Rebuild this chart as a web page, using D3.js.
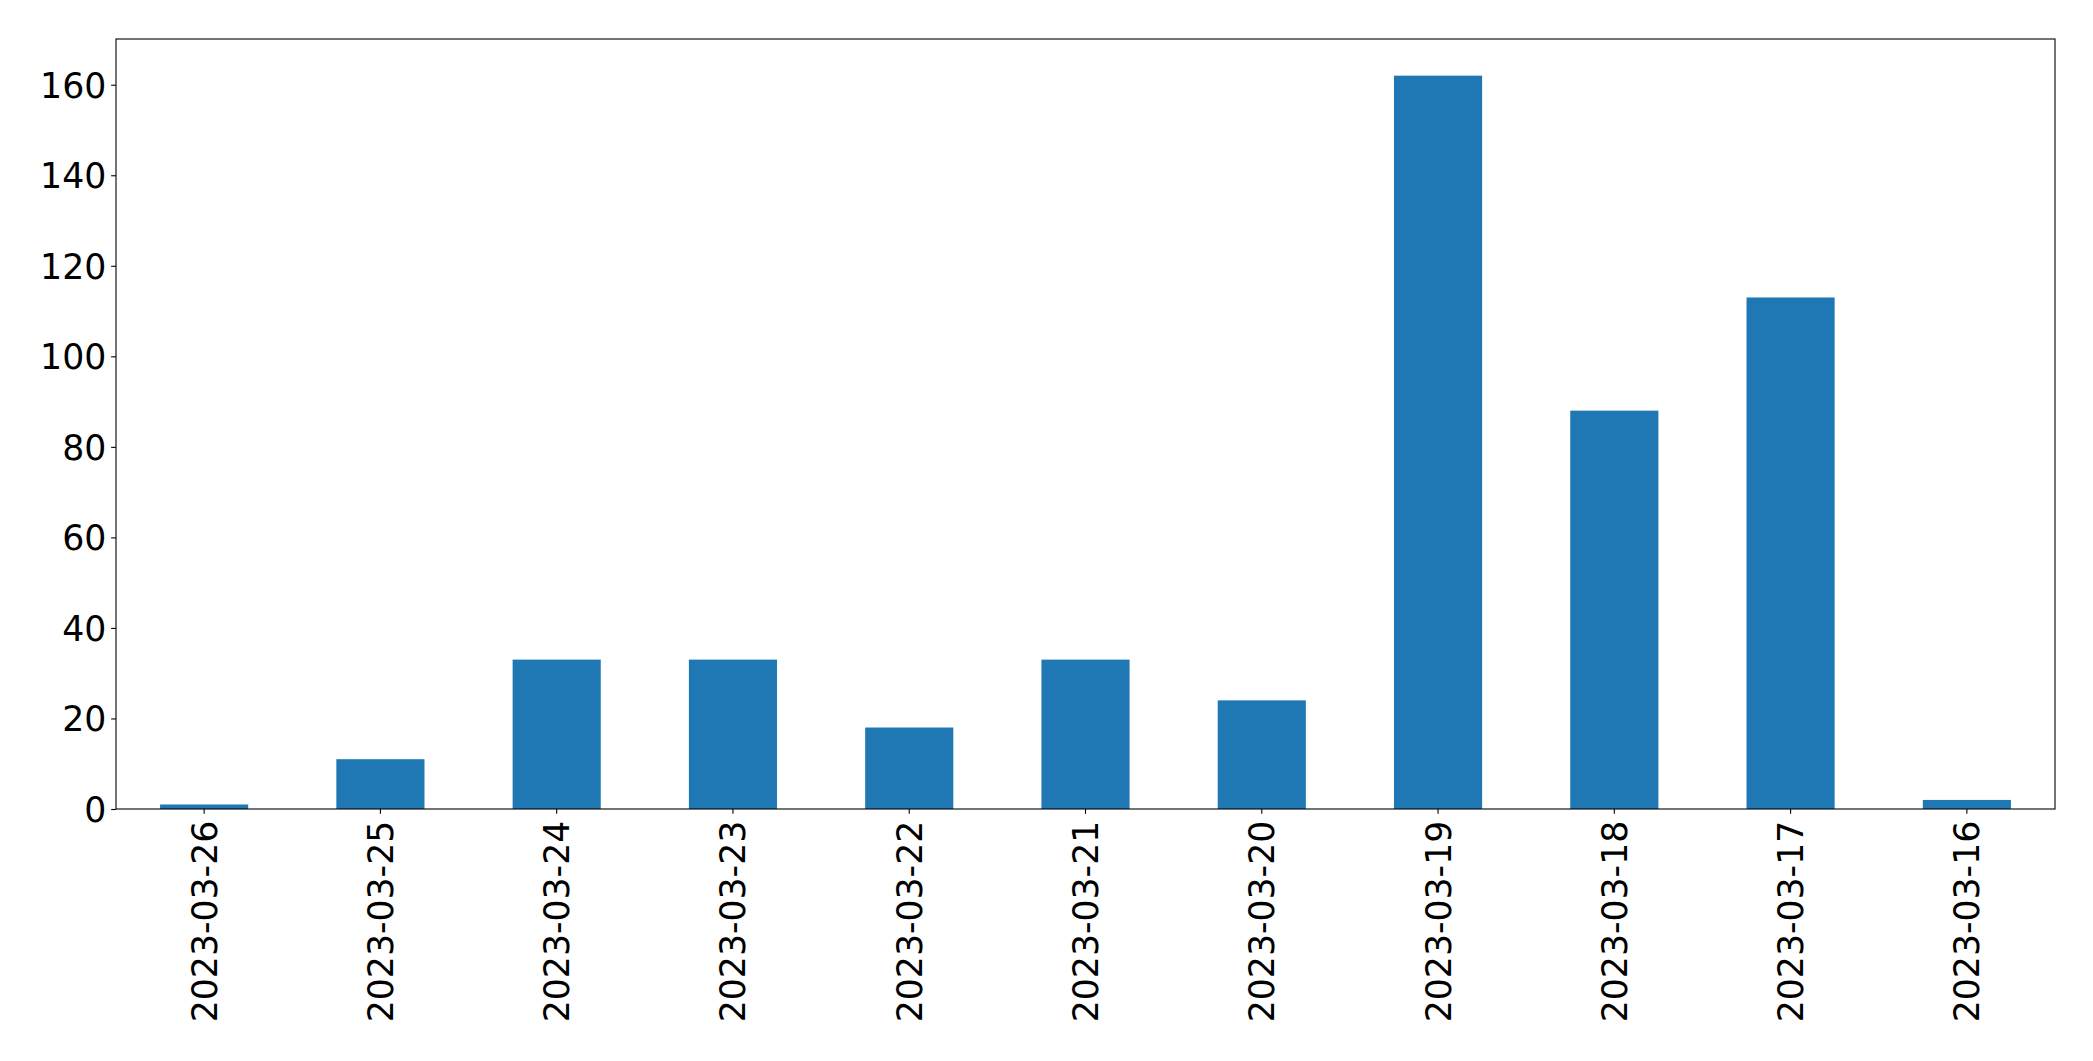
<!DOCTYPE html>
<html>
<head>
<meta charset="utf-8">
<script src="https://cdn.jsdelivr.net/npm/d3@7"></script>
<style>
  html, body { margin: 0; padding: 0; background: #fff; }
  svg { display: block; }
</style>
</head>
<body>
<svg id="chart" width="2093" height="1061"></svg>
<script>
const categories = ["2023-03-26","2023-03-25","2023-03-24","2023-03-23","2023-03-22","2023-03-21","2023-03-20","2023-03-19","2023-03-18","2023-03-17","2023-03-16"];
const values = [1, 11, 33, 33, 18, 33, 24, 162, 88, 113, 2];
const yTicks = [0, 20, 40, 60, 80, 100, 120, 140, 160];

const W = 2093, H = 1061;
const margin = {left: 116, top: 39, right: W - 2055, bottom: H - 809};
const pw = W - margin.left - margin.right;
const ph = H - margin.top - margin.bottom;
const fontSize = 34.7;
const tickLen = 4.86, pad = 4.86;

const svg = d3.select("#chart");
const g = svg.append("g").attr("transform", `translate(${margin.left},${margin.top})`);

const x = d3.scaleBand().domain(categories).range([0, pw]).paddingInner(0.5).paddingOuter(0.25);
const yMax = d3.max(values) * 1.05;
const y = d3.scaleLinear().domain([0, yMax]).range([ph, 0]);

g.selectAll("rect.bar").data(values).enter().append("rect")
  .attr("class", "bar")
  .attr("x", (d, i) => x(categories[i]))
  .attr("width", x.bandwidth())
  .attr("y", d => y(d))
  .attr("height", d => y(0) - y(d))
  .attr("fill", "#1f77b4");

// frame
g.append("rect").attr("x", 0).attr("y", 0).attr("width", pw).attr("height", ph)
  .attr("fill", "none").attr("stroke", "#000").attr("stroke-width", 1.1);

// y axis
const yAxis = d3.axisLeft(y).tickValues(yTicks).tickSize(tickLen).tickPadding(pad).tickFormat(d3.format("d"));
const ya = g.append("g").call(yAxis);
ya.select(".domain").remove();
ya.selectAll("line").attr("stroke", "#000").attr("stroke-width", 1.1);
ya.selectAll("text").attr("font-family", "DejaVu Sans").attr("font-size", fontSize).attr("fill", "#000").attr("dy", "0.36em");

// x axis
const xAxis = d3.axisBottom(x).tickSize(tickLen).tickPadding(pad);
const xa = g.append("g").attr("transform", `translate(0,${ph})`).call(xAxis);
xa.select(".domain").remove();
xa.selectAll("line").attr("stroke", "#000").attr("stroke-width", 1.1);
xa.selectAll("text")
  .attr("font-family", "DejaVu Sans").attr("font-size", fontSize).attr("fill", "#000")
  .attr("text-anchor", "end")
  .attr("dy", null)
  .attr("y", null)
  .attr("transform", `translate(0,${tickLen + pad + 2}) rotate(-90)`)
  .attr("x", 0).attr("y", 0)
  .attr("dy", "0.36em");
</script>
</body>
</html>
